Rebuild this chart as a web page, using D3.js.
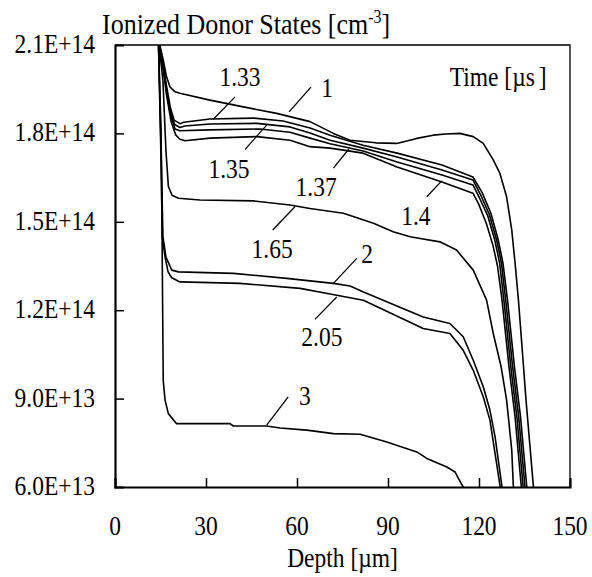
<!DOCTYPE html>
<html>
<head>
<meta charset="utf-8">
<script src="https://cdn.jsdelivr.net/npm/d3@7"></script>
<style>
  html, body { margin: 0; padding: 0; background: #fff; }
  svg { display: block; }
  text { font-family: "Liberation Serif", "Times New Roman", serif; fill: #000; }
</style>
</head>
<body>
<svg id="chart" width="592" height="577"></svg>
<script>
// Axis ticks
const xTicks = [0, 30, 60, 90, 120, 150];
const yTicks = [6.0e13, 9.0e13, 1.2e14, 1.5e14, 1.8e14, 2.1e14];

// Ionized donor profiles [depth µm, density cm^-3], one array per time (µs)
const t1_00 = [[14.3,21.2e13],[15.0,20.9e13],[15.9,20.49e13],[17.0,19.92e13],[18.1,19.58e13],[19.8,19.41e13],[21.4,19.36e13],[31.3,19.13e13],[42.3,18.90e13],[53.3,18.68e13],[64.3,18.40e13],[72.0,18.00e13],[77.5,17.77e13],[86.0,17.68e13],[92.9,17.66e13],[99.5,17.83e13],[104.9,17.94e13],[109.0,17.98e13],[113.7,18.00e13],[118.1,17.89e13],[121.4,17.66e13],[124.7,17.10e13],[126.9,16.64e13],[129.1,15.85e13],[130.8,14.72e13],[131.9,13.59e13],[133.0,12.34e13],[134.3,10.6e13],[135.5,8.95e13],[136.7,7.5e13],[137.9,6.06e13],[138.1,5.8e13]];
const t1_33 = [[14.3,21.2e13],[15.8,20.3e13],[17.0,19.6e13],[18.2,18.9e13],[19.5,18.45e13],[21.4,18.33e13],[22.6,18.38e13],[26.0,18.42e13],[31.3,18.49e13],[45.6,18.52e13],[55.4,18.42e13],[64.3,18.18e13],[70.9,17.94e13],[81.8,17.60e13],[93.0,17.33e13],[107.8,16.93e13],[118.0,16.52e13],[121.0,16.0e13],[123.9,15.3e13],[126.3,14.4e13],[127.9,13.6e13],[129.4,12.34e13],[131.7,10.07e13],[133.7,8.37e13],[135.7,6.06e13],[135.9,5.9e13]];
const t1_35 = [[14.3,21.2e13],[15.8,20.3e13],[17.0,19.5e13],[18.3,18.7e13],[19.7,18.3e13],[21.4,18.2e13],[23.0,18.25e13],[31.3,18.32e13],[46.8,18.34e13],[57.7,18.22e13],[64.3,18.01e13],[70.9,17.77e13],[81.8,17.5e13],[93.0,17.2e13],[107.8,16.76e13],[118.0,16.42e13],[120.6,15.9e13],[123.4,15.25e13],[125.8,14.38e13],[127.4,13.6e13],[128.8,12.34e13],[131.1,10.07e13],[133.1,8.37e13],[135.1,6.06e13],[135.3,5.9e13]];
const t1_37 = [[14.3,21.2e13],[15.8,20.3e13],[17.0,19.4e13],[18.4,18.6e13],[19.8,18.15e13],[21.4,18.09e13],[31.3,18.12e13],[47.8,18.15e13],[57.7,18.04e13],[64.3,17.84e13],[70.9,17.65e13],[81.8,17.4e13],[93.0,17.03e13],[107.8,16.59e13],[118.0,16.25e13],[120.2,15.8e13],[122.9,15.2e13],[125.2,14.38e13],[126.8,13.6e13],[128.2,12.34e13],[130.5,10.07e13],[132.5,8.37e13],[134.5,6.06e13],[134.7,5.9e13]];
const t1_40 = [[14.3,21.2e13],[15.8,20.3e13],[17.0,19.3e13],[18.5,18.4e13],[20.0,17.95e13],[21.4,17.8e13],[23.1,17.75e13],[31.3,17.84e13],[46.8,17.89e13],[57.7,17.77e13],[64.3,17.55e13],[70.9,17.5e13],[81.8,17.33e13],[93.0,16.86e13],[107.8,16.35e13],[118.0,15.97e13],[119.9,15.6e13],[122.4,14.95e13],[124.6,14.2e13],[126.1,13.5e13],[127.6,12.34e13],[129.9,10.07e13],[131.9,8.37e13],[133.9,6.06e13],[134.1,5.9e13]];
const t1_65 = [[14.3,21.2e13],[15.8,19.8e13],[16.8,17.4e13],[17.6,16.2e13],[18.8,15.9e13],[20.9,15.8e13],[28.0,15.74e13],[45.6,15.71e13],[57.7,15.57e13],[64.3,15.45e13],[75.3,15.29e13],[85.2,14.95e13],[91.7,14.66e13],[97.3,14.49e13],[107.1,14.32e13],[112.6,14.04e13],[118.1,13.36e13],[122.5,12.34e13],[124.7,11.21e13],[127.3,10.08e13],[129.1,8.95e13],[130.8,7.25e13],[131.3,6.06e13],[131.5,5.9e13]];
const t2_00 = [[14.3,21.2e13],[15.3,17.0e13],[15.8,14.5e13],[16.8,13.8e13],[18.7,13.36e13],[20.9,13.30e13],[39.0,13.25e13],[56.6,13.08e13],[72.0,12.91e13],[77.5,12.82e13],[81.9,12.62e13],[101.6,11.77e13],[110.4,11.55e13],[114.8,11.10e13],[118.1,10.30e13],[121.4,9.40e13],[123.6,8.61e13],[125.3,7.70e13],[127.5,6.06e13],[127.7,5.9e13]];
const t2_05 = [[14.3,21.2e13],[15.2,17.0e13],[15.6,14.5e13],[16.5,13.8e13],[17.5,13.3e13],[18.7,13.1e13],[21.4,12.96e13],[41.2,12.91e13],[61.0,12.74e13],[70.9,12.55e13],[81.9,12.34e13],[101.6,11.38e13],[110.4,11.21e13],[114.8,10.64e13],[118.1,9.96e13],[121.4,9.06e13],[123.6,8.27e13],[126.9,6.06e13],[127.1,5.9e13]];
const t3_00 = [[14.3,21.2e13],[15.2,18.0e13],[15.5,14.7e13],[15.9,9.62e13],[16.5,8.95e13],[17.6,8.49e13],[20.3,8.15e13],[37.9,8.15e13],[39.0,8.07e13],[50.0,8.07e13],[54.4,8.00e13],[63.2,7.93e13],[72.0,7.81e13],[80.8,7.79e13],[89.6,7.53e13],[99.5,7.19e13],[102.8,6.97e13],[109.4,6.68e13],[112.1,6.51e13],[113.2,6.29e13],[114.8,6.0e13],[115.0,5.9e13]];

const series = [t1_00, t1_33, t1_35, t1_37, t1_40, t1_65, t2_00, t2_05, t3_00];

// Curve labels: text, label anchor (depth, density), leader start, leader end
const labelText = ["1", "1.33", "1.35", "1.37", "1.4", "1.65", "2", "2.05", "3"];
const labelAt = [[69.9,19.23e13],[41.2,19.61e13],[37.6,16.48e13],[66.3,15.87e13],[99.2,14.89e13],[51.8,13.77e13],[83.1,13.60e13],[68.2,10.78e13],[62.6,8.78e13]];
const leaderFrom = [[64.6,19.57e13],[39.6,19.24e13],[42.9,17.46e13],[72.0,16.82e13],[102.8,15.85e13],[52.0,14.72e13],[79.7,13.76e13],[65.9,11.69e13],[57.1,9.06e13]];
const leaderTo = [[57.4,18.73e13],[32.4,18.48e13],[50.0,18.28e13],[77.1,17.47e13],[107.7,16.39e13],[59.3,15.51e13],[72.0,12.91e13],[73.1,12.45e13],[50.0,8.10e13]];

const margin = { left: 115, right: 22, top: 45, bottom: 90 };
const W = 592, H = 577;
const FS = 23.5, STRETCH = 1.15;

const svg = d3.select("#chart");
const x = d3.scaleLinear().domain([0, 150]).range([margin.left, W - margin.right]);
const y = d3.scaleLinear().domain([6.0e13, 2.1e14]).range([H - margin.bottom, margin.top]);

// text helper: baseline placed at (px, py), glyphs slightly tall
function label(px, py, str, anchor, size) {
  return svg.append("text")
    .attr("transform", `translate(${px},${py}) scale(1,${STRETCH})`)
    .attr("text-anchor", anchor || "middle")
    .style("font-size", (size || FS) + "px")
    .text(str);
}

svg.append("clipPath").attr("id", "plotClip")
  .append("rect")
  .attr("x", x(0)).attr("y", y(2.1e14))
  .attr("width", x(150) - x(0)).attr("height", y(6.0e13) - y(2.1e14));

// frame (top & right)
svg.append("path")
  .attr("d", `M${x(0)},${y(2.1e14)}H${x(150)}V${y(6.0e13)}`)
  .attr("fill", "none").attr("stroke", "#000").attr("stroke-width", 1.3);

// profiles
const line = d3.line().x(d => x(d[0])).y(d => y(d[1]));
svg.append("g").attr("clip-path", "url(#plotClip)")
  .selectAll("path").data(series).join("path")
  .attr("d", line)
  .attr("fill", "none").attr("stroke", "#000").attr("stroke-width", 1.6)
  .attr("stroke-linejoin", "round");

// axes with inward ticks
const fmtSci = v => {
  const e = Math.floor(Math.log10(v) + 1e-9);
  return (v / Math.pow(10, e)).toFixed(1) + "E+" + e;
};
const xAxis = d3.axisBottom(x).tickValues(xTicks).tickSize(-9).tickFormat("");
const yAxis = d3.axisLeft(y).tickValues(yTicks).tickSize(-9).tickFormat("");
const gx = svg.append("g").attr("transform", `translate(0,${y(6.0e13)})`).call(xAxis);
const gy = svg.append("g").attr("transform", `translate(${x(0)},0)`).call(yAxis);
[gx, gy].forEach(g => {
  g.select(".domain").attr("stroke", "#000").attr("stroke-width", 2.2);
  g.selectAll(".tick line").attr("stroke", "#000").attr("stroke-width", 1.5);
});
gx.selectAll(".tick").filter(d => d === 0 || d === 150).select("line").remove();
gy.selectAll(".tick").filter(d => d === 6.0e13 || d === 2.1e14).select("line").remove();

// tick labels
xTicks.forEach(v => label(x(v), y(6.0e13) + 48, String(v)));
yTicks.forEach(v => label(x(0) - 20, y(v) + 8, fmtSci(v), "end"));

// axis titles
label((x(0) + x(150)) / 2, 567, "Depth [\u00b5m]");
const title = label(102, 34, "Ionized Donor States [cm", "start", 26);
title.append("tspan").attr("dy", -10).style("font-size", "16px").text("-3");
title.append("tspan").attr("dy", 10).text("]");

// legend title
const lt = label(x(142.3), y(19.61e13), "Time [\u00b5s", "end");
lt.append("tspan").attr("dx", 4).text("]");

// curve labels and leaders
labelText.forEach((t, i) => {
  svg.append("line")
    .attr("x1", x(leaderFrom[i][0])).attr("y1", y(leaderFrom[i][1]))
    .attr("x2", x(leaderTo[i][0])).attr("y2", y(leaderTo[i][1]))
    .attr("stroke", "#000").attr("stroke-width", 1.3);
  label(x(labelAt[i][0]), y(labelAt[i][1]), t);
});
</script>
</body>
</html>
